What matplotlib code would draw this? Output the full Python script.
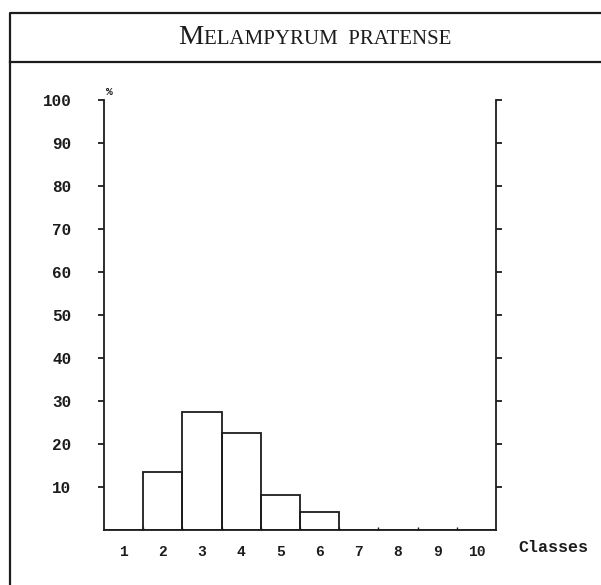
import matplotlib
matplotlib.use("Agg")
import matplotlib.pyplot as plt
from matplotlib.lines import Line2D
from matplotlib.offsetbox import TextArea, HPacker, AnchoredOffsetbox

# Frequency distribution (%) per class
classes = [1, 2, 3, 4, 5, 6, 7, 8, 9, 10]
percent = [0, 13.5, 27.4, 22.6, 8.1, 4.2, 0, 0, 0, 0]
y_ticks = [10, 20, 30, 40, 50, 60, 70, 80, 90, 100]
x_labels = ["1", "2", "3", "4", "5", "6", "7", "8", "9", "10"]

W, H = 601, 585
fig = plt.figure(figsize=(W / 100, H / 100), dpi=100)
fig.patch.set_facecolor("white")

ink = "#1c1c1c"
mono = "Liberation Mono"


def fx(px):
    return px / W


def fy(py):
    return 1 - py / H


# Outer frame and title band
fig.add_artist(Line2D([fx(10), fx(10), fx(601)], [fy(585), fy(13), fy(13)],
                      transform=fig.transFigure, color=ink, lw=1.6))
fig.add_artist(Line2D([fx(10), fx(601)], [fy(62), fy(62)],
                      transform=fig.transFigure, color=ink, lw=1.6))

# Small-caps title
big = TextArea("M", textprops=dict(family="Liberation Serif", size=20.5, color=ink))
small = TextArea("ELAMPYRUM  PRATENSE",
                 textprops=dict(family="Liberation Serif", size=15, color=ink))
title = HPacker(children=[big, small], align="baseline", pad=0, sep=0)
fig.add_artist(AnchoredOffsetbox(loc="center", child=title, frameon=False,
                                 pad=0, borderpad=0,
                                 bbox_to_anchor=(fx(315), fy(37)),
                                 bbox_transform=fig.transFigure))

ax = fig.add_axes([fx(104), fy(530), fx(496) - fx(104), fy(100) - fy(530)])
ax.bar(classes, percent, width=1.0, fill=False, edgecolor=ink, linewidth=1.3)

ax.set_xlim(0.5, 10.5)
ax.set_ylim(0, 100)

for side in ("left", "right", "bottom"):
    ax.spines[side].set_color(ink)
    ax.spines[side].set_linewidth(1.3)
ax.spines["top"].set_visible(False)

ax.set_yticks(y_ticks)
ax.set_yticklabels([str(v) for v in y_ticks])
ax.yaxis.set_ticks_position("both")
ax.tick_params(axis="y", which="major", direction="out", length=4.5, width=1.3,
               color=ink, pad=19, labelsize=11.5, labelcolor=ink)
for lab in ax.get_yticklabels():
    lab.set_family(mono)
    lab.set_fontweight("bold")

ax.set_xticks(classes)
ax.set_xticklabels(x_labels)
ax.set_xticks([c + 0.5 for c in classes[:-1]], minor=True)
ax.tick_params(axis="x", which="major", length=0, pad=11, labelsize=10.5,
               labelcolor=ink)
ax.tick_params(axis="x", which="minor", direction="in", length=2.5, width=1.0,
               color=ink)
for lab in ax.get_xticklabels():
    lab.set_family(mono)
    lab.set_fontweight("bold")

fig.text(fx(109), fy(92), "%", family=mono, fontweight="bold", fontsize=8,
         color=ink, ha="center", va="center")
fig.text(fx(553), fy(548), "Classes", family=mono, fontweight="bold",
         fontsize=12, color=ink, ha="center", va="center")

fig.savefig("out.png", dpi=100, facecolor="white")
